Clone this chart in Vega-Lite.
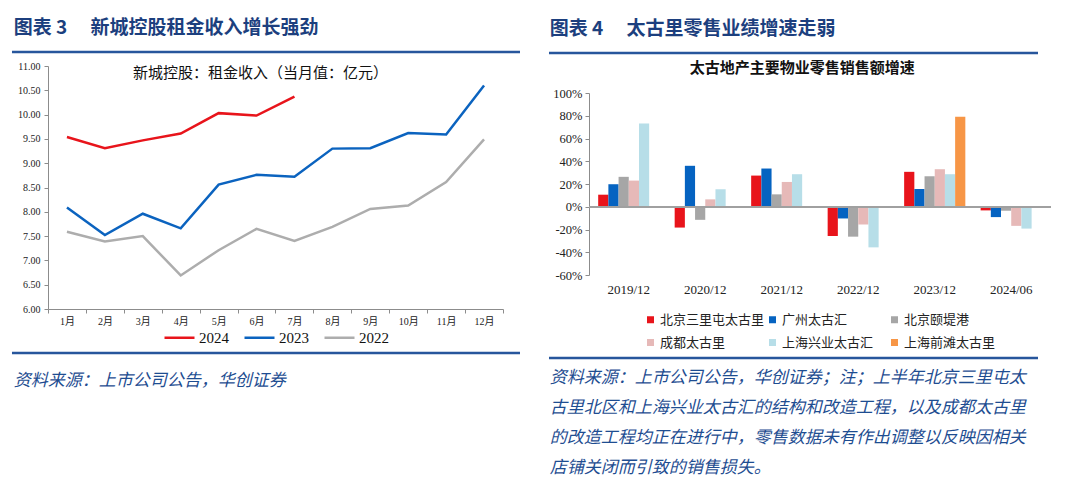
{
  "$schema": "https://vega.github.io/schema/vega-lite/v6.json",
  "background": "white",
  "padding": {"left": 10, "top": 18, "right": 0, "bottom": 12},
  "config": {
    "view": {"stroke": null},
    "font": "Liberation Serif, Noto Sans CJK SC",
    "axis": {"labelFont": "Liberation Serif, Noto Sans CJK SC", "labelColor": "#222", "domainColor": "#8c8c8c", "tickColor": "#8c8c8c", "grid": false, "title": null, "labelOverlap": false},
    "legend": {"layout": {"bottom": {"anchor": "middle"}}}
  },
  "resolve": {"scale": {"color": "independent"}, "legend": {"color": "independent"}},
  "datasets": {
    "one": [{"k": 1}],
    "rent": [
      {"month": "1月", "year": "2024", "value": 9.54},
      {"month": "2月", "year": "2024", "value": 9.31},
      {"month": "3月", "year": "2024", "value": 9.47},
      {"month": "4月", "year": "2024", "value": 9.61},
      {"month": "5月", "year": "2024", "value": 10.03},
      {"month": "6月", "year": "2024", "value": 9.98},
      {"month": "7月", "year": "2024", "value": 10.37},
      {"month": "1月", "year": "2023", "value": 8.09},
      {"month": "2月", "year": "2023", "value": 7.52},
      {"month": "3月", "year": "2023", "value": 7.96},
      {"month": "4月", "year": "2023", "value": 7.66},
      {"month": "5月", "year": "2023", "value": 8.56},
      {"month": "6月", "year": "2023", "value": 8.76},
      {"month": "7月", "year": "2023", "value": 8.72},
      {"month": "8月", "year": "2023", "value": 9.30},
      {"month": "9月", "year": "2023", "value": 9.31},
      {"month": "10月", "year": "2023", "value": 9.62},
      {"month": "11月", "year": "2023", "value": 9.59},
      {"month": "12月", "year": "2023", "value": 10.60},
      {"month": "1月", "year": "2022", "value": 7.59},
      {"month": "2月", "year": "2022", "value": 7.39},
      {"month": "3月", "year": "2022", "value": 7.50},
      {"month": "4月", "year": "2022", "value": 6.69},
      {"month": "5月", "year": "2022", "value": 7.21},
      {"month": "6月", "year": "2022", "value": 7.65},
      {"month": "7月", "year": "2022", "value": 7.40},
      {"month": "8月", "year": "2022", "value": 7.69},
      {"month": "9月", "year": "2022", "value": 8.06},
      {"month": "10月", "year": "2022", "value": 8.13},
      {"month": "11月", "year": "2022", "value": 8.61},
      {"month": "12月", "year": "2022", "value": 9.49}
    ],
    "retail": [
      {"period": "2019/12", "property": "北京三里屯太古里", "value": 10.6},
      {"period": "2019/12", "property": "广州太古汇", "value": 19.8},
      {"period": "2019/12", "property": "北京颐堤港", "value": 26.3},
      {"period": "2019/12", "property": "成都太古里", "value": 23.0},
      {"period": "2019/12", "property": "上海兴业太古汇", "value": 73.2},
      {"period": "2020/12", "property": "北京三里屯太古里", "value": -18.3},
      {"period": "2020/12", "property": "广州太古汇", "value": 36.0},
      {"period": "2020/12", "property": "北京颐堤港", "value": -11.5},
      {"period": "2020/12", "property": "成都太古里", "value": 6.5},
      {"period": "2020/12", "property": "上海兴业太古汇", "value": 15.3},
      {"period": "2021/12", "property": "北京三里屯太古里", "value": 27.4},
      {"period": "2021/12", "property": "广州太古汇", "value": 33.6},
      {"period": "2021/12", "property": "北京颐堤港", "value": 10.9},
      {"period": "2021/12", "property": "成都太古里", "value": 21.8},
      {"period": "2021/12", "property": "上海兴业太古汇", "value": 28.6},
      {"period": "2022/12", "property": "北京三里屯太古里", "value": -25.7},
      {"period": "2022/12", "property": "广州太古汇", "value": -10.3},
      {"period": "2022/12", "property": "北京颐堤港", "value": -26.3},
      {"period": "2022/12", "property": "成都太古里", "value": -15.6},
      {"period": "2022/12", "property": "上海兴业太古汇", "value": -35.7},
      {"period": "2023/12", "property": "北京三里屯太古里", "value": 30.7},
      {"period": "2023/12", "property": "广州太古汇", "value": 15.6},
      {"period": "2023/12", "property": "北京颐堤港", "value": 26.8},
      {"period": "2023/12", "property": "成都太古里", "value": 33.0},
      {"period": "2023/12", "property": "上海兴业太古汇", "value": 28.6},
      {"period": "2023/12", "property": "上海前滩太古里", "value": 79.1},
      {"period": "2024/06", "property": "北京三里屯太古里", "value": -3.2},
      {"period": "2024/06", "property": "广州太古汇", "value": -9.1},
      {"period": "2024/06", "property": "北京颐堤港", "value": -3.5},
      {"period": "2024/06", "property": "成都太古里", "value": -16.8},
      {"period": "2024/06", "property": "上海兴业太古汇", "value": -19.2},
      {"period": "2024/06", "property": "上海前滩太古里", "value": 0.6}
    ]
  },
  "spacing": 25,
  "hconcat": [
    {
      "spacing": 5,
      "resolve": {"scale": {"color": "independent"}, "legend": {"color": "independent"}},
      "vconcat": [
        {
          "width": 472, "height": 4,
          "data": {"name": "one"},
          "title": {"text": "图表 3　 新城控股租金收入增长强劲", "anchor": "start", "frame": "bounds", "dx": 3, "font": "Noto Sans CJK SC", "fontSize": 19, "fontWeight": "bold", "color": "#1C3F7E", "offset": 13},
          "mark": {"type": "rule", "color": "#27569C", "strokeWidth": 2.5},
          "encoding": {
            "x": {"datum": -0.0763, "type": "quantitative", "scale": {"domain": [0, 1]}, "axis": null},
            "x2": {"datum": 1},
            "y": {"datum": 1, "type": "quantitative", "scale": {"domain": [0, 1]}, "axis": null}
          }
        },
        {
          "width": 455, "height": 243,
          "data": {"name": "rent"},
          "title": {"text": "新城控股：租金收入（当月值：亿元）", "anchor": "middle", "frame": "bounds", "font": "Noto Sans CJK SC", "fontSize": 15, "fontWeight": "normal", "color": "#111", "offset": -20},
          "mark": {"type": "line", "strokeWidth": 2.5},
          "encoding": {
            "x": {
              "field": "month", "type": "ordinal",
              "sort": ["1月", "2月", "3月", "4月", "5月", "6月", "7月", "8月", "9月", "10月", "11月", "12月"],
              "scale": {"type": "band", "paddingInner": 0, "paddingOuter": 0},
              "axis": {"labelAngle": 0, "labelFontSize": 10, "tickBand": "extent", "tickSize": 4, "labelPadding": 3}
            },
            "y": {
              "field": "value", "type": "quantitative",
              "scale": {"domain": [6, 11], "nice": false, "zero": false},
              "axis": {"values": [6, 6.5, 7, 7.5, 8, 8.5, 9, 9.5, 10, 10.5, 11], "format": ".2f", "labelFontSize": 10, "tickSize": 4, "labelPadding": 4, "labelOverlap": false}
            },
            "color": {
              "field": "year", "type": "nominal",
              "sort": ["2024", "2023", "2022"],
              "scale": {"domain": ["2024", "2023", "2022"], "range": ["#E8141B", "#0B63BF", "#ADADAD"]},
              "legend": {"orient": "bottom", "direction": "horizontal", "title": null, "symbolType": "stroke", "symbolSize": 900, "symbolStrokeWidth": 2.5, "labelFont": "Liberation Serif", "labelFontSize": 15, "labelColor": "#111", "labelOffset": 3, "columnPadding": 10, "offset": -5}
            }
          }
        },
        {
          "width": 472, "height": 2,
          "data": {"name": "one"},
          "title": {"text": "资料来源：上市公司公告，华创证券", "orient": "bottom", "anchor": "start", "frame": "bounds", "dx": 3, "font": "Noto Sans CJK SC", "fontSize": 17, "fontStyle": "italic", "fontWeight": "normal", "color": "#1E4D91", "offset": 18},
          "mark": {"type": "rule", "color": "#27569C", "strokeWidth": 2.5},
          "encoding": {
            "x": {"datum": -0.0763, "type": "quantitative", "scale": {"domain": [0, 1]}, "axis": null},
            "x2": {"datum": 1},
            "y": {"datum": 1, "type": "quantitative", "scale": {"domain": [0, 1]}, "axis": null}
          }
        }
      ]
    },
    {
      "spacing": 6,
      "resolve": {"scale": {"color": "independent"}, "legend": {"color": "independent"}},
      "vconcat": [
        {
          "width": 449, "height": 1,
          "data": {"name": "one"},
          "title": {"text": "图表 4　 太古里零售业绩增速走弱", "anchor": "start", "frame": "bounds", "dx": 2, "font": "Noto Sans CJK SC", "fontSize": 19, "fontWeight": "bold", "color": "#1C3F7E", "offset": 13},
          "mark": {"type": "rule", "color": "#27569C", "strokeWidth": 2.5},
          "encoding": {
            "x": {"datum": -0.0891, "type": "quantitative", "scale": {"domain": [0, 1]}, "axis": null},
            "x2": {"datum": 1},
            "y": {"datum": 0, "type": "quantitative", "scale": {"domain": [0, 1]}, "axis": null}
          }
        },
        {
          "width": 462, "height": 182,
          "data": {"name": "retail"},
          "title": {"text": "太古地产主要物业零售销售额增速", "anchor": "middle", "frame": "bounds", "font": "Noto Sans CJK SC", "fontSize": 15, "fontWeight": "bold", "color": "#111", "offset": 11},
          "layer": [
            {
              "mark": {"type": "bar"},
              "encoding": {
                "x": {
                  "field": "period", "type": "ordinal",
                  "scale": {"type": "band", "paddingInner": 0.2, "paddingOuter": 0.12},
                  "axis": {"labelAngle": 0, "labelFontSize": 13, "domain": false, "ticks": false, "labelPadding": 8}
                },
                "xOffset": {
                  "field": "property", "type": "nominal",
                  "sort": ["北京三里屯太古里", "广州太古汇", "北京颐堤港", "成都太古里", "上海兴业太古汇", "上海前滩太古里"],
                  "scale": {"paddingInner": 0, "paddingOuter": 0}
                },
                "y": {
                  "field": "value", "type": "quantitative",
                  "scale": {"domain": [-60, 100], "nice": false},
                  "axis": {"values": [-60, -40, -20, 0, 20, 40, 60, 80, 100], "labelExpr": "datum.value + '%'", "labelFontSize": 12.5, "tickSize": 4, "labelPadding": 3, "labelOverlap": false}
                },
                "color": {
                  "field": "property", "type": "nominal",
                  "sort": ["北京三里屯太古里", "广州太古汇", "北京颐堤港", "成都太古里", "上海兴业太古汇", "上海前滩太古里"],
                  "scale": {"domain": ["北京三里屯太古里", "广州太古汇", "北京颐堤港", "成都太古里", "上海兴业太古汇", "上海前滩太古里"], "range": ["#E8141B", "#0563C1", "#A6A6A6", "#E6B9B8", "#B7DEE8", "#F79646"]},
                  "legend": {"orient": "bottom", "direction": "horizontal", "columns": 3, "gridAlign": "all", "title": null, "symbolType": "square", "symbolSize": 49, "symbolStrokeWidth": 0, "labelFont": "Noto Sans CJK SC", "labelFontSize": 13, "labelColor": "#222", "labelOffset": 3, "columnPadding": 1, "rowPadding": 9, "offset": 17}
                }
              }
            },
            {
              "mark": {"type": "rule", "color": "#a0a0a0", "strokeWidth": 1.5},
              "encoding": {"y": {"datum": 0, "type": "quantitative", "axis": {"values": [-60, -40, -20, 0, 20, 40, 60, 80, 100], "labelExpr": "datum.value + '%'", "labelFontSize": 12.5, "tickSize": 4, "labelPadding": 3, "labelOverlap": false}}}
            }
          ]
        },
        {
          "width": 449, "height": 2,
          "data": {"name": "one"},
          "title": {"text": ["资料来源：上市公司公告，华创证券；注；上半年北京三里屯太", "古里北区和上海兴业太古汇的结构和改造工程，以及成都太古里", "的改造工程均正在进行中，零售数据未有作出调整以反映因相关", "店铺关闭而引致的销售损失。"], "orient": "bottom", "anchor": "start", "frame": "bounds", "dx": 2, "font": "Noto Sans CJK SC", "fontSize": 17, "fontStyle": "italic", "fontWeight": "normal", "color": "#1E4D91", "lineHeight": 30, "offset": 10},
          "mark": {"type": "rule", "color": "#27569C", "strokeWidth": 2.5},
          "encoding": {
            "x": {"datum": -0.0891, "type": "quantitative", "scale": {"domain": [0, 1]}, "axis": null},
            "x2": {"datum": 1},
            "y": {"datum": 1, "type": "quantitative", "scale": {"domain": [0, 1]}, "axis": null}
          }
        }
      ]
    }
  ]
}
